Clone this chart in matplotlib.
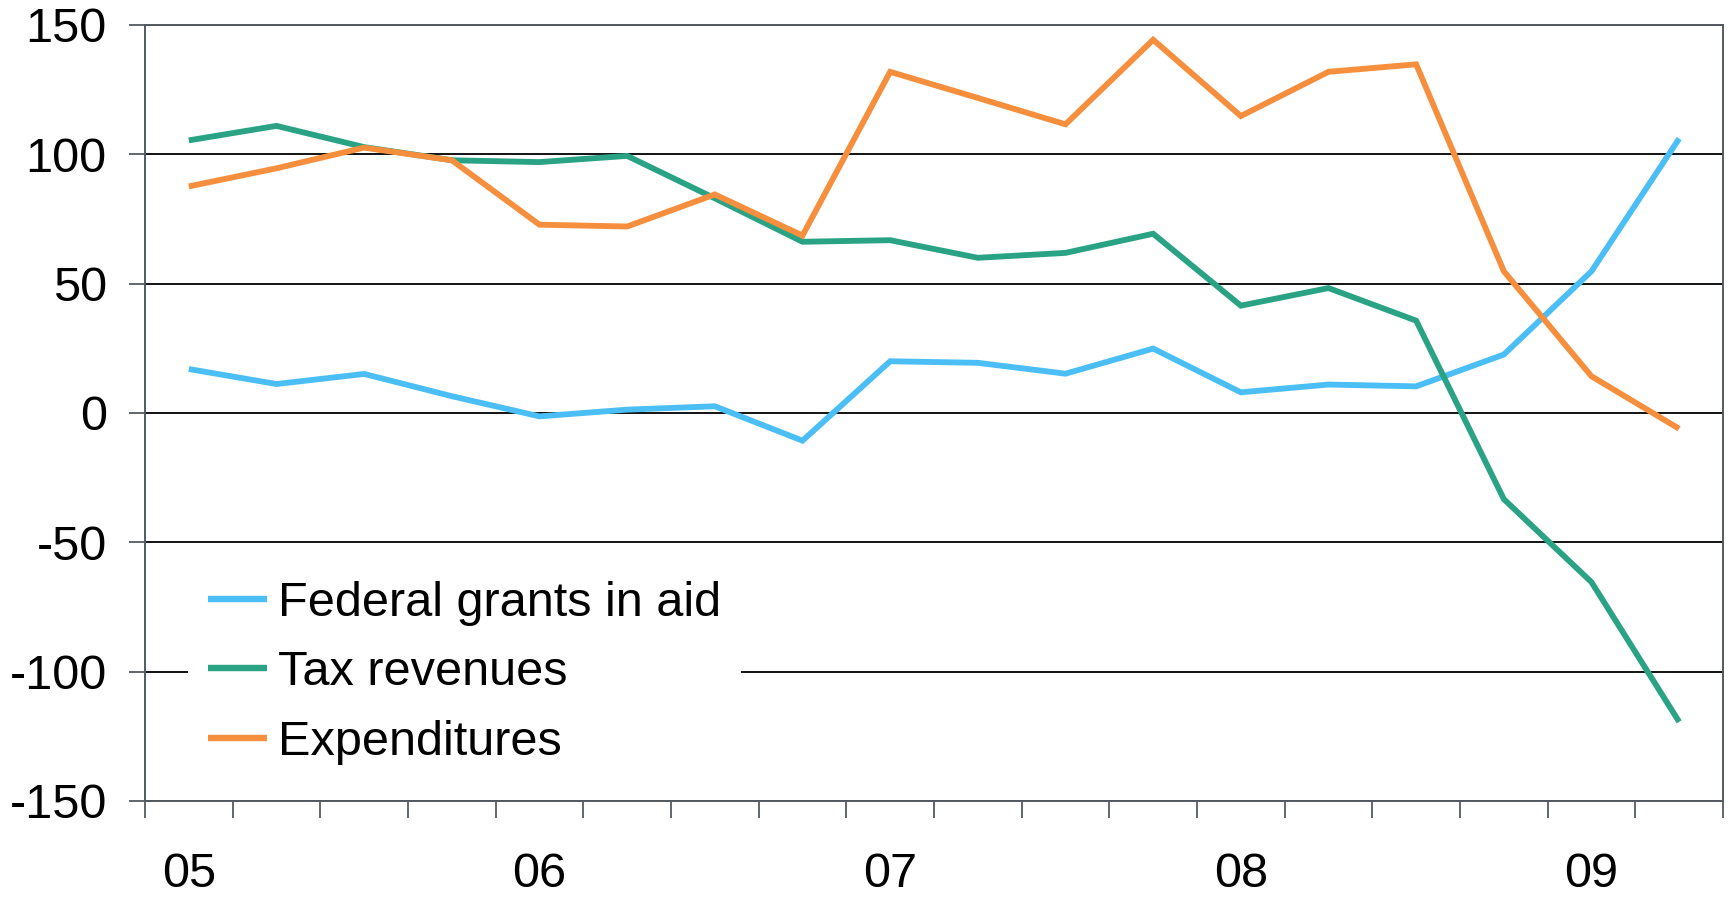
import matplotlib
matplotlib.use("Agg")
import matplotlib.pyplot as plt
import numpy as np

plt.rcParams['font.family'] = ['Liberation Sans', 'DejaVu Sans']
plt.rcParams['axes.unicode_minus'] = False

quarters = ["05Q1", "05Q2", "05Q3", "05Q4", "06Q1", "06Q2", "06Q3", "06Q4",
            "07Q1", "07Q2", "07Q3", "07Q4", "08Q1", "08Q2", "08Q3", "08Q4",
            "09Q1", "09Q2"]
year_labels = ["05", "06", "07", "08", "09"]

federal_grants = [17.0, 11.2, 15.1, 6.5, -1.3, 1.3, 2.6, -10.7,
                  20.0, 19.4, 15.2, 24.9, 8.0, 11.0, 10.3, 22.6, 54.8, 106.1]
tax_revenues = [105.4, 111.0, 102.8, 97.7, 97.0, 99.4, 83.0, 66.2,
                66.8, 60.0, 61.9, 69.3, 41.5, 48.3, 35.7, -33.3, -65.4, -119.4]
expenditures = [87.6, 94.6, 102.6, 97.7, 72.8, 72.1, 84.5, 68.6,
                131.9, 121.8, 111.6, 144.3, 114.8, 131.9, 134.8, 54.8, 14.2, -6.1]

series = [
    ("Federal grants in aid", federal_grants, "#4BBFF5"),
    ("Tax revenues", tax_revenues, "#2AA384"),
    ("Expenditures", expenditures, "#F68F3D"),
]

FS = 35

fig = plt.figure(figsize=(17.34, 9.0), dpi=100)
ax = fig.add_axes([145/1734, 1-801/900, (1723-145)/1734, (801-25)/900])

x = np.arange(len(quarters))
for name, vals, col in series:
    ax.plot(x, vals, color=col, lw=4.2, label=name, zorder=3,
            solid_joinstyle='miter', solid_capstyle='butt')

ax.set_xlim(-0.5, len(quarters) - 0.5)
ax.set_ylim(-150, 150)
ax.set_yticks([-150, -100, -50, 0, 50, 100, 150])
ax.set_yticklabels([str(v) for v in [-150, -100, -50, 0, 50, 100, 150]])

ax.set_xticks(np.arange(0, len(quarters), 4))
ax.set_xticklabels(year_labels)
ax.set_xticks(np.arange(-0.5, len(quarters), 1), minor=True)
ax.tick_params(axis='x', which='major', length=0, pad=37, labelsize=FS)
ax.tick_params(axis='x', which='minor', length=12, width=1.3, color='#555a60', direction='out')
ax.tick_params(axis='y', which='major', length=11.5, width=1.3, color='#555a60',
               direction='out', pad=16, labelsize=FS)

ax.yaxis.grid(True, color='black', lw=1.3, zorder=1)
ax.set_axisbelow(True)
for s in ['left', 'bottom', 'right', 'top']:
    ax.spines[s].set_color('#555a60')
    ax.spines[s].set_linewidth(1.4)

leg = ax.legend(loc='center left', bbox_to_anchor=(0.0275, 0.165),
                bbox_transform=ax.transAxes, fontsize=FS, frameon=True,
                facecolor='white', edgecolor='none', framealpha=1,
                handlelength=1.22, handletextpad=0.23, labelspacing=0.51,
                borderpad=0.4, borderaxespad=0, fancybox=False)
leg.set_zorder(5)
for h in leg.get_lines():
    h.set_linewidth(4.6)

fig.savefig("out.png", dpi=100)
